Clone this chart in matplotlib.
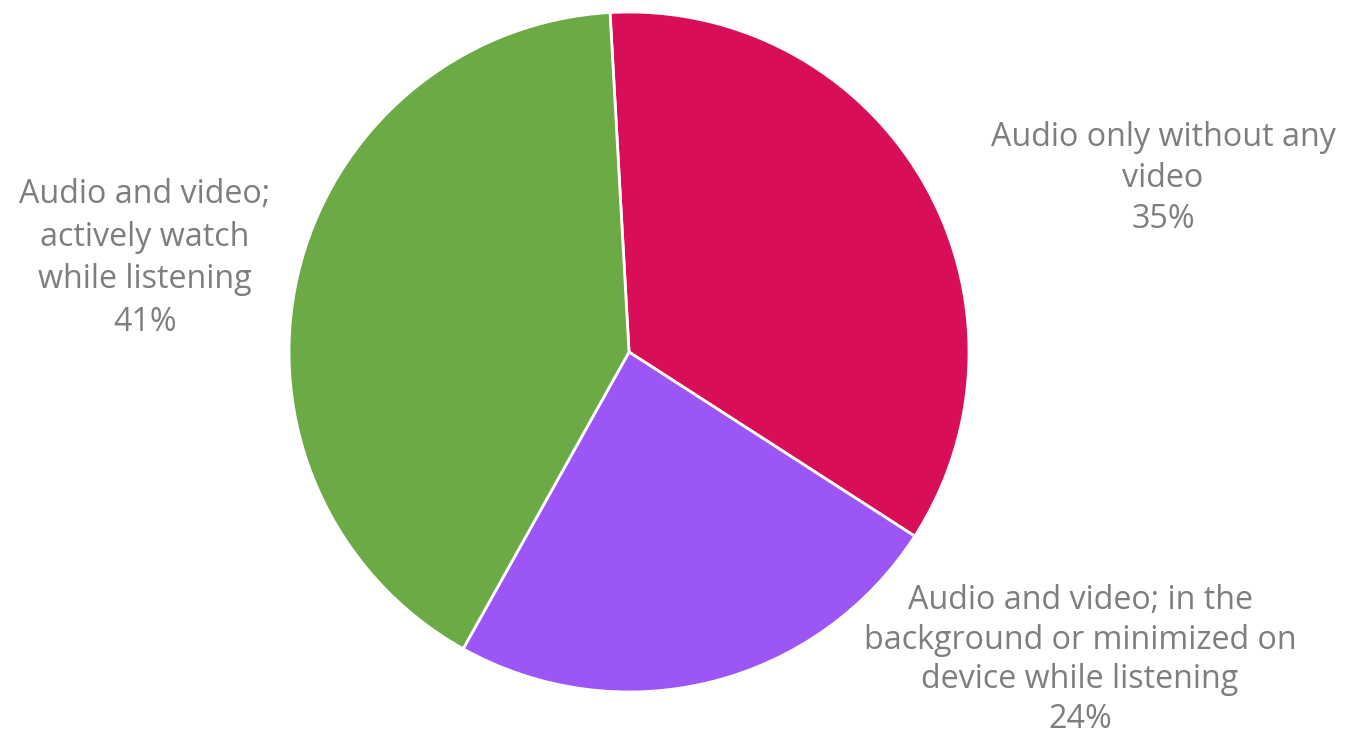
import matplotlib
matplotlib.use("Agg")
import matplotlib.pyplot as plt

categories = [
    "Audio only without any\nvideo",
    "Audio and video; in the\nbackground or minimized on\ndevice while listening",
    "Audio and video;\nactively watch\nwhile listening",
]
shares = [35, 24, 41]
colors = ["#D80F58", "#9C56F5", "#6BAA45"]

W, H = 1348, 734
fig = plt.figure(figsize=(W / 100, H / 100), dpi=100)
fig.patch.set_facecolor("white")

# pie occupies a square area centred at (629, 352) px with radius 340 px
cx, cy, r = 629, 352, 340
ax = fig.add_axes([(cx - r) / W, (H - cy - r) / H, 2 * r / W, 2 * r / H])
ax.pie(shares, colors=colors, startangle=93.2, counterclock=False,
       radius=1.0, wedgeprops=dict(edgecolor="white", linewidth=2))
ax.set_xlim(-1, 1)
ax.set_ylim(-1, 1)
ax.set_aspect("auto")
ax.axis("off")

# label anchor positions (pixel x of centre, pixel y of top line) and spacing
label_pos = [(1163, 121, 1.33), (1080, 584, 1.27), (145, 178, 1.39)]
for cat, val, (px, py, ls) in zip(categories, shares, label_pos):
    fig.text(px / W, 1 - py / H, f"{cat}\n{val}%", ha="center", va="top",
             fontsize=23.2, color="#7E7E7E", family="Open Sans",
             linespacing=ls)

fig.savefig("out.png", dpi=100, facecolor="white")
